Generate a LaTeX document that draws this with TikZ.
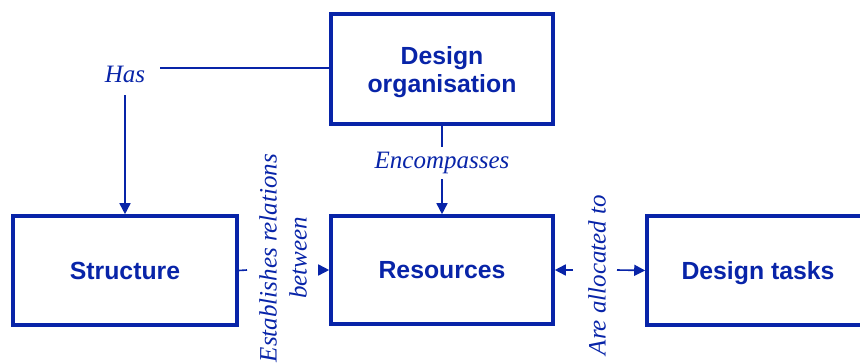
\documentclass[tikz,border=0pt]{standalone}
\usepackage{fontspec}
\setmainfont{Liberation Serif}
\setsansfont{Liberation Sans}
\usetikzlibrary{arrows.meta}
\definecolor{dblue}{RGB}{8,36,168}
\begin{document}
\begin{tikzpicture}[x=1pt,y=-1pt,
  box/.style={draw=dblue,line width=3.6pt,text=dblue,font=\sffamily\bfseries\fontsize{24.8}{28}\selectfont,align=center,inner sep=0pt},
  lab/.style={text=dblue,font=\itshape\fontsize{25}{30}\selectfont,align=center,inner sep=0pt},
  conn/.style={draw=dblue,line width=1.6pt},
  arr/.style={conn,-{Triangle[length=11pt,width=11pt]}}]
\useasboundingbox (0,0) rectangle (860,364);
\clip (0,0) rectangle (860,364);
\node[box,minimum width=222pt,minimum height=110pt,text depth=0pt] (org) at (442,69) {\raisebox{-2pt}{Design}\\\raisebox{-2pt}{organisation}};
\node[box,minimum width=224pt,minimum height=109pt] (struct) at (125,270.5) {Structure};
\node[box,minimum width=222pt,minimum height=108pt] (res) at (442,270) {Resources};
\node[box,minimum width=222pt,minimum height=109pt,text depth=0pt] (tasks) at (758,270.5) {Design tasks};
\node[lab] (has) at (125,74) {Has};
\node[lab,inner ysep=5pt] (enc) at (442,163) {Encompasses};
\node[lab,rotate=90] (est) at (283,258) {Establishes relations\\between};
\node[lab,rotate=90] (alloc) at (597,275) {Are allocated to};
\coordinate (h1) at (160,68);
\coordinate (h2) at (125,95);
\coordinate (e1) at (247,270);
\coordinate (e2) at (318,270);
\coordinate (a1) at (573,270);
\coordinate (a2) at (617,270);
\draw[conn] (org.west |- h1) -- (h1);
\draw[arr] (h2) -- (struct.north);
\draw[conn] (org.south) -- (enc.north);
\draw[arr] (enc.south) -- (res.north);
\draw[conn] (struct.east) -- (e1);
\draw[arr] (e2) -- (res.west);
\draw[arr] (a1) -- (res.east);
\draw[arr] (a2) -- (tasks.west);
\end{tikzpicture}
\end{document}
